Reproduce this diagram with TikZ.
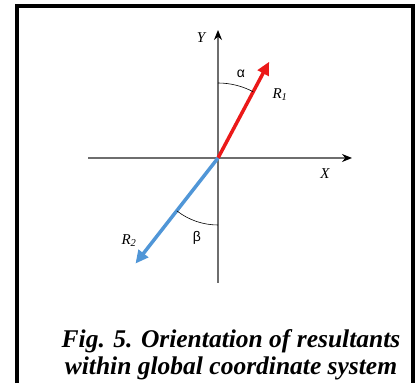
\documentclass[tikz,border=0pt]{standalone}
\usepackage{fontspec}
\setmainfont{Liberation Serif}
\newfontfamily\greekfont{Liberation Sans}
\usetikzlibrary{arrows.meta}

\definecolor{resred}{RGB}{235,25,25}
\definecolor{resblue}{RGB}{80,150,215}
\definecolor{axisgray}{RGB}{110,110,110}

\begin{document}
\begin{tikzpicture}[x=1pt, y=1pt,
    axis/.style={axisgray, line width=1.1pt, -{Stealth[length=10pt, width=8pt, black]}},
    result/.style={line width=3.5pt, -{Triangle[length=13pt, width=12pt]}},
    lbl/.style={font=\fontsize{15}{15}\selectfont\itshape, inner sep=0pt},
    ang/.style={font=\greekfont\fontsize{14}{14}\selectfont, inner sep=0pt}]
    \useasboundingbox (0,0) rectangle (415,383);

    % frame
    \draw [line width=4pt] (17,0) -- (17,377) -- (413,377) -- (413,0);

    % axes
    \coordinate (O) at (218,225);
    \coordinate (Xs) at (88,225);
    \coordinate (Xe) at (352,225);
    \coordinate (Ys) at (218,100);
    \coordinate (Ye) at (218,353);
    \draw [axis] (Xs) -- (Xe);
    \draw [axis] (Ys) -- (Ye);
    \node [lbl] (XName) at (325,209) {X};
    \node [lbl] (YName) at (201,345) {Y};

    % resultants
    \coordinate (R1tip) at ([shift={(62:109)}]O);
    \coordinate (R2tip) at ([shift={(232:134)}]O);
    \draw [result, resred] (O) -- (R1tip);
    \draw [result, resblue] (O) -- (R2tip);
    \node [lbl] (R1Name) at (280,288) {R\textsubscript{1}};
    \node [lbl] (R2Name) at (129,142) {R\textsubscript{2}};

    % angles
    \draw [black, line width=0.6pt] ([shift={(90:75)}]O) arc [start angle=90, end angle=62, radius=75];
    \draw [black, line width=0.6pt] ([shift={(232:67)}]O) arc [start angle=232, end angle=270, radius=67];
    \node [ang] (Alpha) at (241,309) {α};
    \node [ang] (Beta) at (197,145) {β};

    \node [anchor=base, align=center, inner sep=0pt,
           font=\fontsize{25.5}{27}\selectfont\bfseries\itshape] (Caption) at (231,9)
        {Fig. 5. Orientation of resultants\\within global coordinate system};
\end{tikzpicture}
\end{document}
